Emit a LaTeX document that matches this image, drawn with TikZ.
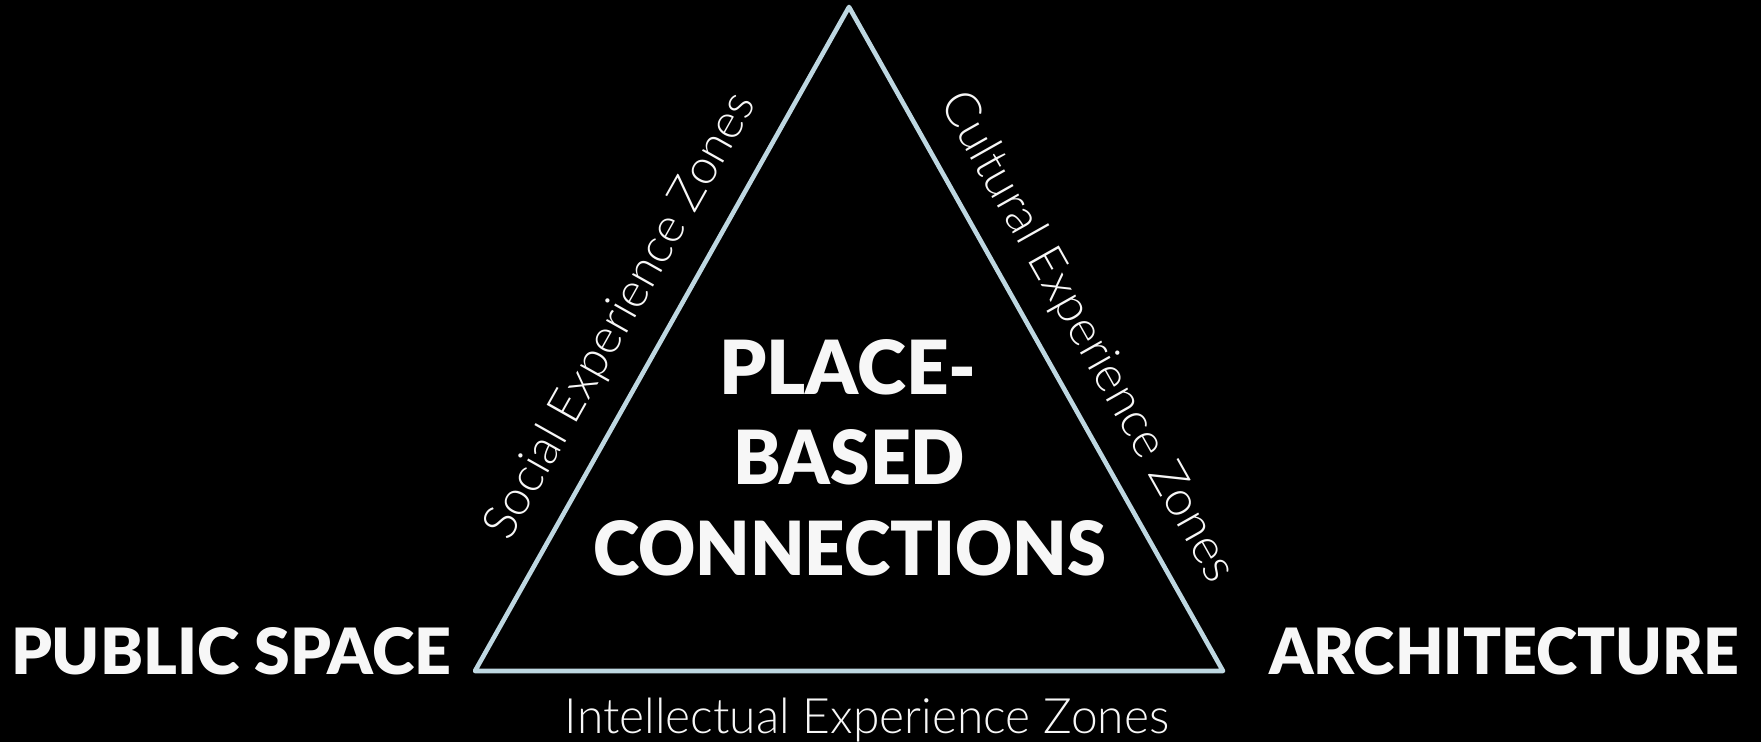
\documentclass[tikz,border=0pt]{standalone}
\usepackage{fontspec}
\usepackage{graphicx}
\newfontfamily\heavyfont{Lato Black}
\newfontfamily\lightfont{Lato Light}
\definecolor{edgeblue}{RGB}{190,215,225}
\definecolor{txtwhite}{RGB}{247,247,247}
\tikzset{
  lbl/.style={inner sep=0pt, outer sep=0pt, text=txtwhite, font=\heavyfont\fontsize{34}{40}\selectfont},
  zone/.style={inner sep=0pt, outer sep=0pt, text=txtwhite, font=\lightfont\fontsize{26}{30}\selectfont},
  tri/.style={draw=edgeblue, line width=2.3pt, line join=round}
}
\begin{document}
\begin{tikzpicture}[x=0.5pt,y=-0.5pt]
\fill[black] (0,0) rectangle (1761,742);
\useasboundingbox (0,0) rectangle (1761,742);
\coordinate (apex) at (849,7);
\coordinate (bl) at (475,671);
\coordinate (br) at (1223,671);
\draw[tri] (apex) -- (bl) -- (br) -- cycle;
\node[lbl, anchor=base west] (pub) at (11,675) {\resizebox{220pt}{23.5pt}{PUBLIC SPACE}};
\node[lbl, anchor=base west] (arch) at (1269,675) {\resizebox{235pt}{23.5pt}{ARCHITECTURE}};
\node[lbl, anchor=base] (l1) at (848,395) {\resizebox{128.5pt}{27.5pt}{PLACE-}};
\node[lbl, anchor=base] (l2) at (849,485) {\resizebox{116pt}{27.5pt}{BASED}};
\node[lbl, anchor=base] (l3) at (849.5,575) {\resizebox{256.5pt}{27.5pt}{CONNECTIONS}};
\node[zone, anchor=base, font=\lightfont\fontsize{24.4}{28}\selectfont] (intel) at (867,733) {\resizebox{302pt}{\height}{Intellectual Experience Zones}};
\node[zone, anchor=base, rotate=60.6] (social) at (633,323) {\resizebox{252pt}{!}{Social Experience Zones}};
\node[zone, anchor=base, rotate=-60.6] (cult) at (1075,344) {\resizebox{277pt}{!}{Cultural Experience Zones}};
\end{tikzpicture}
\end{document}
